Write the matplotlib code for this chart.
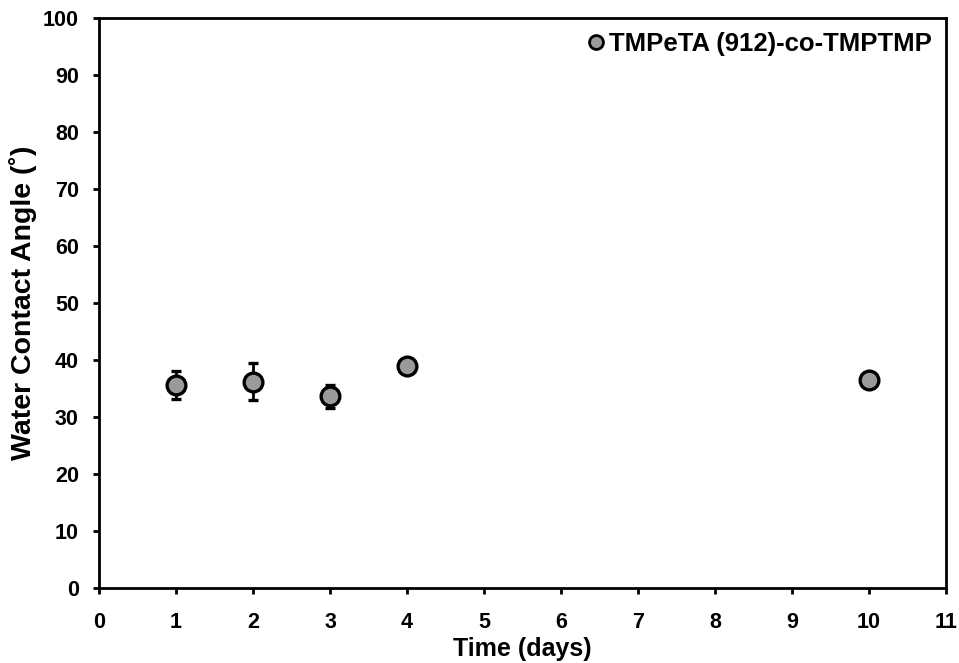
import matplotlib
matplotlib.use("Agg")
import matplotlib.pyplot as plt
from matplotlib.lines import Line2D

# Water contact angle over time
days = [1, 2, 3, 4, 10]
angle = [35.6, 36.2, 33.6, 38.9, 36.5]
angle_err = [2.5, 3.2, 2.1, 1.0, 0.5]
series_label = "TMPeTA (912)-co-TMPTMP"

plt.rcParams["font.family"] = ["Liberation Sans", "DejaVu Sans"]
plt.rcParams["font.weight"] = "bold"

fig = plt.figure(figsize=(9.59, 6.63), dpi=100)
ax = fig.add_axes([0.1032, 0.1131, 0.8833, 0.8598])

ax.errorbar(days, angle, yerr=angle_err, fmt="o", color="black",
            ecolor="black", elinewidth=2.0, capsize=3.5, capthick=2.0,
            markerfacecolor="#9a9a9a", markeredgecolor="black",
            markeredgewidth=2.4, markersize=13.5, label=series_label, zorder=3)

ax.set_xlim(0, 11)
ax.set_ylim(0, 100)
ax.set_xticks(range(0, 12))
ax.set_yticks(range(0, 101, 10))

for s in ax.spines.values():
    s.set_linewidth(2.0)
ax.tick_params(axis="both", direction="out", length=4.5, width=2.0,
               labelsize=15.5)
ax.tick_params(axis="x", pad=13)
ax.tick_params(axis="y", pad=10)
for lbl in ax.get_xticklabels() + ax.get_yticklabels():
    lbl.set_fontweight("bold")

ax.set_xlabel("Time (days)", fontsize=18, fontweight="bold", labelpad=3)
ax.set_ylabel("Water Contact Angle (˚)", fontsize=20.5, fontweight="bold", labelpad=4)

handle = Line2D([], [], marker="o", linestyle="none", markerfacecolor="#9a9a9a",
                markeredgecolor="black", markeredgewidth=2.0, markersize=10)
ax.legend([handle], [series_label], loc="upper right", frameon=False,
          prop={"size": 18.5, "weight": "bold"}, handletextpad=0.0,
          handlelength=1.0, borderaxespad=0.15)

fig.savefig("out.png", dpi=100)
